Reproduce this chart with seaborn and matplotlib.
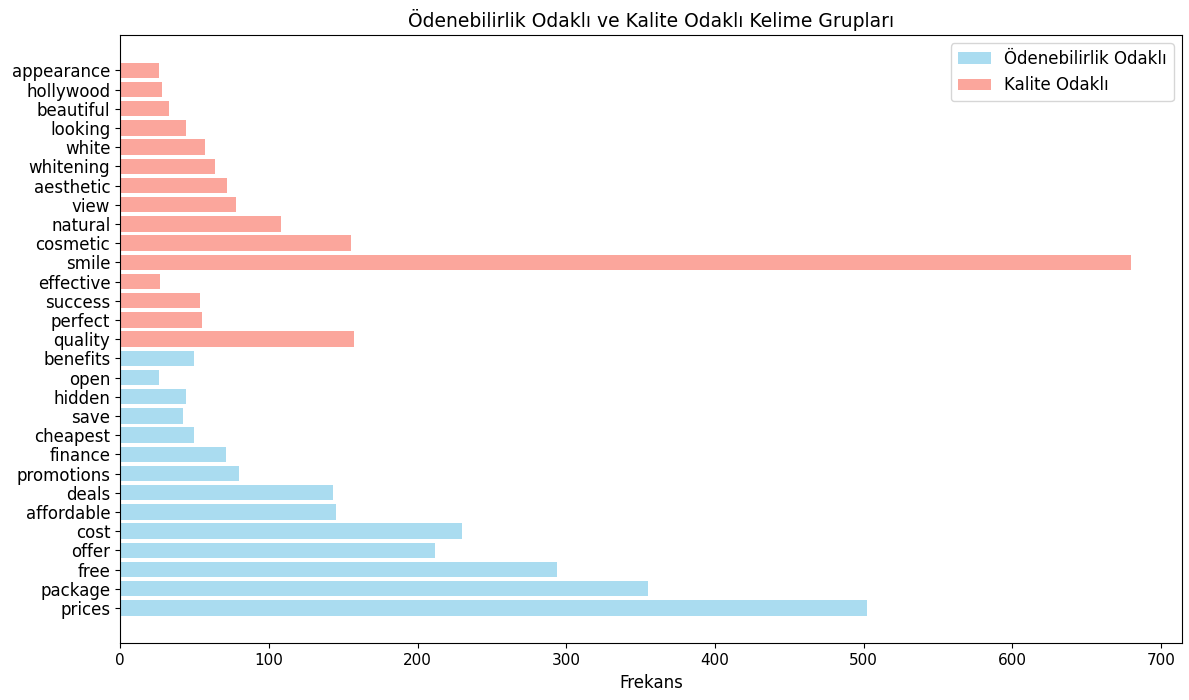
import pandas as pd
import matplotlib.pyplot as plt
import seaborn as sns

# --- Data ---
AFFORD_WORDS = ['prices', 'package', 'free', 'offer', 'cost', 'affordable', 'deals',
                'promotions', 'finance', 'cheapest', 'save', 'hidden', 'open', 'benefits']
AFFORD_FREQ = [502, 355, 294, 212, 230, 145, 143, 80, 71, 50, 42, 44, 26, 50]

QUALITY_WORDS = ['quality', 'perfect', 'success', 'effective', 'smile', 'cosmetic', 'natural',
                 'view', 'aesthetic', 'whitening', 'white', 'looking', 'beautiful',
                 'hollywood', 'appearance']
QUALITY_FREQ = [157, 55, 54, 27, 680, 155, 108, 78, 72, 64, 57, 44, 33, 28, 26]

GROUP_AFFORD = 'Ödenebilirlik Odaklı'
GROUP_QUALITY = 'Kalite Odaklı'

# --- Build frame ---
df = pd.concat([
    pd.DataFrame({'kelime': AFFORD_WORDS, 'frekans': AFFORD_FREQ, 'grup': GROUP_AFFORD}),
    pd.DataFrame({'kelime': QUALITY_WORDS, 'frekans': QUALITY_FREQ, 'grup': GROUP_QUALITY}),
], ignore_index=True)

# seaborn puts the first category on top, so reverse to keep 'prices' at the bottom
order = df['kelime'].tolist()[::-1]
n = len(order)

fig, ax = plt.subplots(figsize=(11.89, 7.0), dpi=100)
sns.barplot(data=df, x='frekans', y='kelime', hue='grup', order=order,
            hue_order=[GROUP_AFFORD, GROUP_QUALITY],
            palette={GROUP_AFFORD: 'skyblue', GROUP_QUALITY: 'salmon'},
            saturation=1, dodge=False, width=0.8, alpha=0.7, legend=False, ax=ax)

# mimic plain barh margins
m = 0.05 * (n - 1 + 0.8)
ax.set_ylim(n - 1 + 0.4 + m, -0.4 - m)

ax.legend(handles=ax.containers, labels=[GROUP_AFFORD, GROUP_QUALITY],
          loc='upper right', fontsize=12)
ax.set_title('Ödenebilirlik Odaklı ve Kalite Odaklı Kelime Grupları', fontsize=13.5)
ax.set_xlabel('Frekans', fontsize=12)
ax.set_ylabel('')
ax.tick_params(axis='y', labelsize=12)
ax.tick_params(axis='x', labelsize=11)

fig.subplots_adjust(left=0.101, right=0.994, top=0.95, bottom=0.081)
fig.savefig('out.png', dpi=100)
plt.close(fig)
